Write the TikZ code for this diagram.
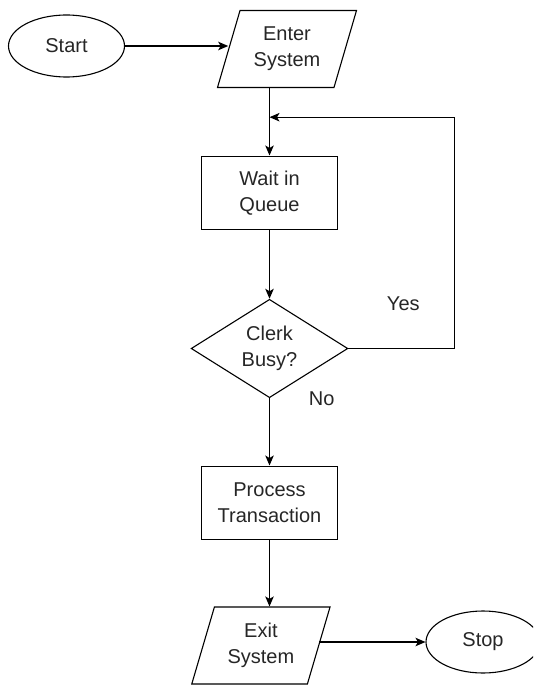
\documentclass[tikz,border=0pt]{standalone}
\usepackage{fontspec}
\setmainfont{Liberation Sans}
\usetikzlibrary{shapes.geometric,arrows.meta}
\definecolor{txt}{HTML}{262626}
\begin{document}
\begin{tikzpicture}[x=1pt,y=-1pt,
  base/.style={draw=black,line width=1.1pt,text=txt,inner sep=0pt,align=center,
    font=\fontsize{20}{26}\selectfont},
  term/.style={base,ellipse,minimum width=116pt,minimum height=62pt},
  proc/.style={base,rectangle,minimum width=136pt,minimum height=73.3pt},
  io/.style={base,trapezium,trapezium left angle=70,trapezium right angle=110,
    trapezium stretches=true,minimum width=139.5pt,minimum height=77pt},
  dec/.style={base,diamond,aspect=1.6,minimum width=156.7pt,minimum height=98.4pt},
  lbl/.style={text=txt,inner sep=0pt,font=\fontsize{20}{26}\selectfont},
  arr/.style={line width=1.1pt,-{Stealth[length=10pt,width=8.5pt,inset=2.5pt]}},
  ln/.style={line width=1.1pt}]
\useasboundingbox (0,0) rectangle (533,685);
\begin{scope}
\clip (0,0) rectangle (533,685);
\node[term] (start) at (66.5,46) {Start};
\node[io] (enter) at (287,49) {Enter\\System};
\node[proc] (wait) at (269.5,192.7) {Wait in\\Queue};
\node[dec] (busy) at (269.5,348.5) {Clerk\\Busy?};
\node[proc] (process) at (269.5,502.7) {Process\\Transaction};
\node[io] (exit) at (260.9,645.5) {Exit\\System};
\node[term,minimum width=114pt] (stop) at (483,642) {Stop};
\node[lbl] (yes) at (403.3,303.3) {Yes};
\node[lbl] (no) at (321.7,398.3) {No};
\coordinate (loop) at (454.3,117.2);
\coordinate (join) at (269.5,117.2);

\draw[arr] (start.east) -- (start.east -| enter.west);
\draw[arr] (wait.north |- enter.south) -- (wait.north);
\draw[arr] (wait.south) -- (busy.north);
\draw[arr] (busy.east) -| (loop) -- (join);
\draw[arr] (busy.south) -- (process.north);
\draw[arr] (process.south) -- (process.south |- exit.north);
\draw[arr] (exit.east |- stop.west) -- (stop.west);
\end{scope}
\end{tikzpicture}
\end{document}
